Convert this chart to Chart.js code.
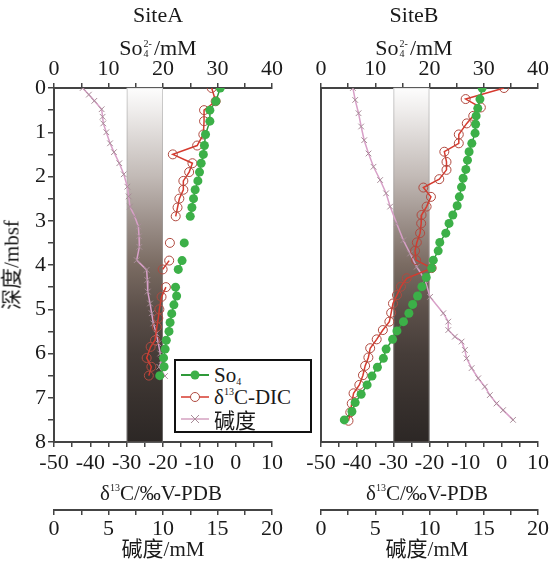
<!DOCTYPE html>
<html>
<head>
<meta charset="utf-8">
<script src="https://cdn.jsdelivr.net/npm/chart.js@4.4.0/dist/chart.umd.min.js"></script>
<style>
  body { margin: 0; background: #fff; }
  #wrap { position: relative; width: 549px; height: 562px; overflow: hidden;
          font-family: 'Liberation Serif', 'Noto Sans CJK SC', serif; color: #1a1a1a; }
  canvas { position: absolute; top: 0; }
  .lbl { position: absolute; white-space: nowrap; font-size: 21px; line-height: 1;
         transform: translate(-50%, -50%); }
  .big { font-size: 22px; }
  .st { display: inline-block; vertical-align: middle; font-size: 10px; line-height: 10px;
        margin: 0 2px 0 1px; position: relative; top: -1px; }
  .st span { display: block; }
  .ytitle { transform: translate(-50%, -50%) rotate(-90deg); }
  sup.s { font-size: 10px; vertical-align: 9px; line-height: 0; }
  sub.s { font-size: 10px; vertical-align: -3px; line-height: 0; }
  #legend { position: absolute; left: 174px; top: 359px; width: 134px; height: 70px;
            border: 2px solid #111; background: #fff; font-size: 21px; }
  .row { position: absolute; left: 4px; height: 22px; display: flex; align-items: center; }
  .row svg { margin-right: 4px; }
</style>
</head>
<body>
<div id="wrap">
  <canvas id="chartA" width="285" height="562" style="left:0"></canvas>
  <canvas id="chartB" width="264" height="562" style="left:285px"></canvas>

  <div class="lbl big" style="left:158px;top:15px">SiteA</div>
  <div class="lbl big" style="left:414px;top:15px">SiteB</div>
  <div class="lbl big" style="left:158px;top:48px">So<span class="st"><span>2-</span><span>4</span></span>/mM</div>
  <div class="lbl big" style="left:414px;top:48px">So<span class="st"><span>2-</span><span>4</span></span>/mM</div>
  <div class="lbl" style="left:161px;top:493px">δ<sup class="s">13</sup>C/‰V-PDB</div>
  <div class="lbl" style="left:427px;top:493px">δ<sup class="s">13</sup>C/‰V-PDB</div>
  <div class="lbl" style="left:163px;top:549px">碱度/mM</div>
  <div class="lbl" style="left:427px;top:549px">碱度/mM</div>
  <div class="lbl ytitle" style="left:12px;top:265px">深度/mbsf</div>

  <div id="legend">
    <div class="row" style="top:3px">
      <svg width="30" height="14"><line x1="1" y1="7" x2="29" y2="7" stroke="#2f9a3a" stroke-width="2"/><circle cx="15" cy="7" r="4.5" fill="#3cb048"/></svg>
      <span>So<sub class="s">4</sub></span>
    </div>
    <div class="row" style="top:25px">
      <svg width="30" height="14"><line x1="1" y1="7" x2="29" y2="7" stroke="#d63a2e" stroke-width="1.5"/><circle cx="15" cy="7" r="4.5" fill="#fff" stroke="#b04a40" stroke-width="1"/></svg>
      <span>δ<sup class="s">13</sup>C-DIC</span>
    </div>
    <div class="row" style="top:47px">
      <svg width="30" height="14"><line x1="1" y1="7" x2="29" y2="7" stroke="#d4a2c0" stroke-width="1.5"/><path d="M11 3 L19 11 M19 3 L11 11" stroke="#a88c98" stroke-width="1"/></svg>
      <span>碱度</span>
    </div>
  </div>
</div>

<script>
// ---- data (depth in mbsf) ----
const bandRange = [-30, -20];

// Site A
const soDepthA = [0, 0.3, 0.5, 0.75, 1.05, 1.3, 1.5, 1.7, 1.9, 2.1, 2.3, 2.5, 2.7, 2.9, 3.5, 3.9, 4.1, 4.5, 4.7, 4.9, 5.1, 5.3, 5.5, 5.7, 5.9, 6.1, 6.3, 6.5];
const soA = [30.5, 29.7, 28.6, 28.6, 27.8, 27.6, 27.4, 27.0, 26.7, 26.4, 25.9, 25.6, 25.3, 25.0, 23.9, 23.5, 22.8, 22.3, 22.5, 22.0, 21.6, 21.3, 21.1, 20.6, 20.4, 20.1, 20.2, 19.4];
const dicDepthA = [0, 0.3, 0.5, 0.75, 1.05, 1.3, 1.5, 1.7, 1.9, 2.1, 2.3, 2.5, 2.7, 2.9, 3.5, 3.9, 4.1, 4.5, 4.72, 5.0, 5.2, 5.4, 5.7, 5.85, 6.1, 6.3, 6.5];
const dicA = [-6.6, -5.5, -8.7, -8.7, -8.9, -10.6, -17.3, -11.9, -12.8, -14.4, -14.4, -15.5, -16.0, -16.5, -18.1, -18.3, -20.1, -19.2, -20.4, -21.0, -21.3, -21.7, -22.2, -23.4, -24.5, -23.2, -23.9];
const alkDepthA = [0, 0.15, 0.29, 0.48, 0.65, 0.8, 1.0, 1.25, 1.45, 1.7, 1.95, 2.23, 2.45, 2.68, 2.9, 3.13, 3.35, 3.59, 3.89, 4.11, 4.34, 4.6, 4.87, 5.09, 5.32, 5.55, 5.77, 6.0, 6.15, 6.3, 6.51];
const alkA = [2.63, 3.2, 3.7, 4.37, 4.46, 4.52, 4.8, 5.14, 5.5, 5.99, 6.4, 6.73, 6.85, 6.97, 7.4, 7.74, 7.8, 7.83, 7.59, 8.5, 8.56, 8.6, 8.81, 8.96, 9.11, 9.4, 9.57, 9.75, 9.88, 9.66, 10.18];

// Site B
const soDepthB = [0, 0.25, 0.46, 0.63, 0.82, 1.02, 1.25, 1.44, 1.63, 1.84, 2.04, 2.24, 2.46, 2.66, 2.87, 3.06, 3.28, 3.49, 3.68, 3.89, 4.07, 4.28, 4.49, 4.7, 4.89, 5.09, 5.28, 5.49, 5.68, 5.9, 6.11, 6.31, 6.51, 6.71, 6.92, 7.11, 7.31, 7.5];
const soB = [29.7, 29.3, 28.9, 28.6, 28.5, 28.4, 27.8, 27.3, 27.0, 26.7, 26.2, 25.9, 25.5, 25.1, 24.3, 23.6, 23.0, 21.9, 21.6, 20.7, 20.4, 19.4, 18.6, 17.8, 16.9, 16.2, 15.2, 14.0, 13.2, 12.0, 11.5, 10.4, 9.4, 8.5, 7.4, 6.3, 5.7, 4.3];
const dicDepthB = [0, 0.25, 0.44, 0.63, 0.8, 1.05, 1.25, 1.44, 1.67, 1.85, 2.06, 2.25, 2.46, 2.68, 2.87, 3.06, 3.28, 3.49, 3.68, 3.89, 4.07, 4.3, 4.49, 4.68, 4.87, 5.08, 5.28, 5.47, 5.68, 5.88, 6.09, 6.28, 6.49, 6.71, 6.9, 7.13, 7.33, 7.52];
const dicB = [0.6, -10.0, -5.8, -7.9, -9.7, -11.9, -11.9, -15.9, -15.3, -15.3, -17.3, -21.7, -19.6, -20.8, -22.2, -22.3, -22.6, -23.5, -24.0, -23.7, -19.4, -26.3, -27.9, -29.0, -30.1, -30.6, -31.1, -32.9, -34.6, -36.4, -36.9, -37.8, -38.4, -39.4, -41.0, -41.5, -41.9, -42.4];
const alkDepthB = [0, 0.27, 0.57, 0.87, 1.18, 1.48, 1.78, 2.08, 2.38, 2.68, 3.06, 3.44, 3.74, 4.04, 4.34, 4.72, 5.09, 5.28, 5.47, 5.62, 5.73, 5.92, 6.11, 6.33, 6.56, 6.75, 6.94, 7.13, 7.28, 7.5];
const alkB = [2.94, 3.15, 3.46, 3.7, 3.98, 4.38, 4.84, 5.45, 6.0, 6.37, 6.98, 7.59, 8.21, 8.82, 9.59, 10.05, 11.27, 11.73, 11.73, 12.34, 12.96, 13.26, 13.42, 13.88, 14.49, 15.1, 15.56, 16.18, 16.78, 17.7];

const axisColor = '#444';
const textColor = '#1a1a1a';
const tickFont = { family: "'Liberation Serif', serif", size: 22 };

function pts(vals, depths) {
  return vals.map((v, i) => ({ x: v, y: depths[i] }));
}

// light-to-dark band between -30 and -20 permil
const bandPlugin = {
  id: 'band',
  beforeDatasetsDraw(chart) {
    const { ctx, chartArea, scales } = chart;
    const x0 = scales.d13c.getPixelForValue(bandRange[0]);
    const x1 = scales.d13c.getPixelForValue(bandRange[1]);
    const g = ctx.createLinearGradient(0, chartArea.top, 0, chartArea.bottom);
    g.addColorStop(0, '#fdfdfd');
    g.addColorStop(0.06, '#f0eeed');
    g.addColorStop(0.125, '#e0dcda');
    g.addColorStop(0.25, '#c2bab6');
    g.addColorStop(0.375, '#9d918b');
    g.addColorStop(0.5, '#7a6b62');
    g.addColorStop(0.625, '#5c504a');
    g.addColorStop(0.75, '#463d39');
    g.addColorStop(0.875, '#38312e');
    g.addColorStop(1, '#2c2725');
    ctx.save();
    ctx.fillStyle = g;
    ctx.fillRect(x0, chartArea.top, x1 - x0, chartArea.bottom - chartArea.top);
    ctx.strokeStyle = 'rgba(160,160,160,0.5)';
    ctx.lineWidth = 1;
    ctx.strokeRect(x0 + 0.5, chartArea.top, x1 - x0 - 1, chartArea.bottom - chartArea.top);
    ctx.restore();
  }
};

function xAxis(pos, weight, min, max, step, every, height) {
  return {
    type: 'linear', position: pos, weight: weight, min: min, max: max,
    ticks: {
      stepSize: step, autoSkip: false, maxRotation: 0, minRotation: 0,
      font: tickFont, color: textColor, padding: pos === 'top' ? 1 : (weight ? 1 : 3),
      callback: v => (Math.abs(v % every) < 1e-6 ? String(v) : '')
    },
    grid: { drawOnChartArea: false, drawTicks: true, tickLength: 5, color: axisColor, lineWidth: 1.5 },
    border: { display: true, color: axisColor, width: 2 },
    afterFit(s) { s.height = height; s.paddingLeft = 0; s.paddingRight = 0; }
  };
}

function makeChart(id, site, showY, yWidth, rightPad) {
  const gapped = site.gaps;
  const hideGap = color => c => (Math.abs(c.p1.parsed.y - c.p0.parsed.y) > 0.35 ? 'rgba(0,0,0,0)' : color);
  return new Chart(document.getElementById(id), {
    type: 'scatter',
    data: {
      datasets: [
        {
          label: 'So4', xAxisID: 'so4', data: pts(site.so, site.soDepth), showLine: true,
          borderColor: '#2f9a3a', borderWidth: 1.5, pointRadius: 4.5,
          pointBackgroundColor: '#3cb048', pointBorderColor: '#3cb048', pointBorderWidth: 0,
          segment: gapped ? { borderColor: hideGap('#2f9a3a') } : {}
        },
        {
          label: 'd13C-DIC', xAxisID: 'd13c', data: pts(site.dic, site.dicDepth), showLine: true,
          borderColor: '#d63a2e', borderWidth: 1.5, pointRadius: 4.5,
          pointBackgroundColor: 'rgba(255,255,255,0)', pointBorderColor: '#b04a40', pointBorderWidth: 1,
          segment: gapped ? { borderColor: hideGap('#d63a2e') } : {}
        },
        {
          label: 'alk', xAxisID: 'alk', data: pts(site.alk, site.alkDepth), showLine: true,
          borderColor: '#d8a0c8', borderWidth: 1.5, pointRadius: 4, pointStyle: 'crossRot',
          pointBorderColor: '#a88c98', pointBorderWidth: 1
        }
      ]
    },
    options: {
      responsive: false, animation: false,
      layout: { padding: { left: 0, right: rightPad, top: 0, bottom: 0 } },
      plugins: { legend: { display: false }, tooltip: { enabled: false } },
      scales: {
        y: {
          type: 'linear', position: 'left', reverse: true, min: 0, max: 8,
          ticks: {
            display: showY, stepSize: 0.5, autoSkip: false, font: tickFont, color: textColor, padding: 2,
            callback: v => (Number.isInteger(v) ? String(v) : '')
          },
          grid: { drawOnChartArea: false, drawTicks: showY, tickLength: 6, color: axisColor, lineWidth: 1.5 },
          border: { display: true, color: axisColor, width: 2 },
          afterFit(s) { s.width = yWidth; }
        },
        so4: xAxis('top', 0, 0, 40, 5, 10, 88),
        d13c: xAxis('bottom', 0, -50, 10, 5, 10, 68),
        alk: xAxis('bottom', 1, 0, 20, 2.5, 5, 52)
      }
    },
    plugins: [bandPlugin]
  });
}

makeChart('chartA', {
  so: soA, soDepth: soDepthA, dic: dicA, dicDepth: dicDepthA, alk: alkA, alkDepth: alkDepthA, gaps: true
}, true, 54, 13);

makeChart('chartB', {
  so: soB, soDepth: soDepthB, dic: dicB, dicDepth: dicDepthB, alk: alkB, alkDepth: alkDepthB, gaps: false
}, false, 36, 11);
</script>
</body>
</html>
